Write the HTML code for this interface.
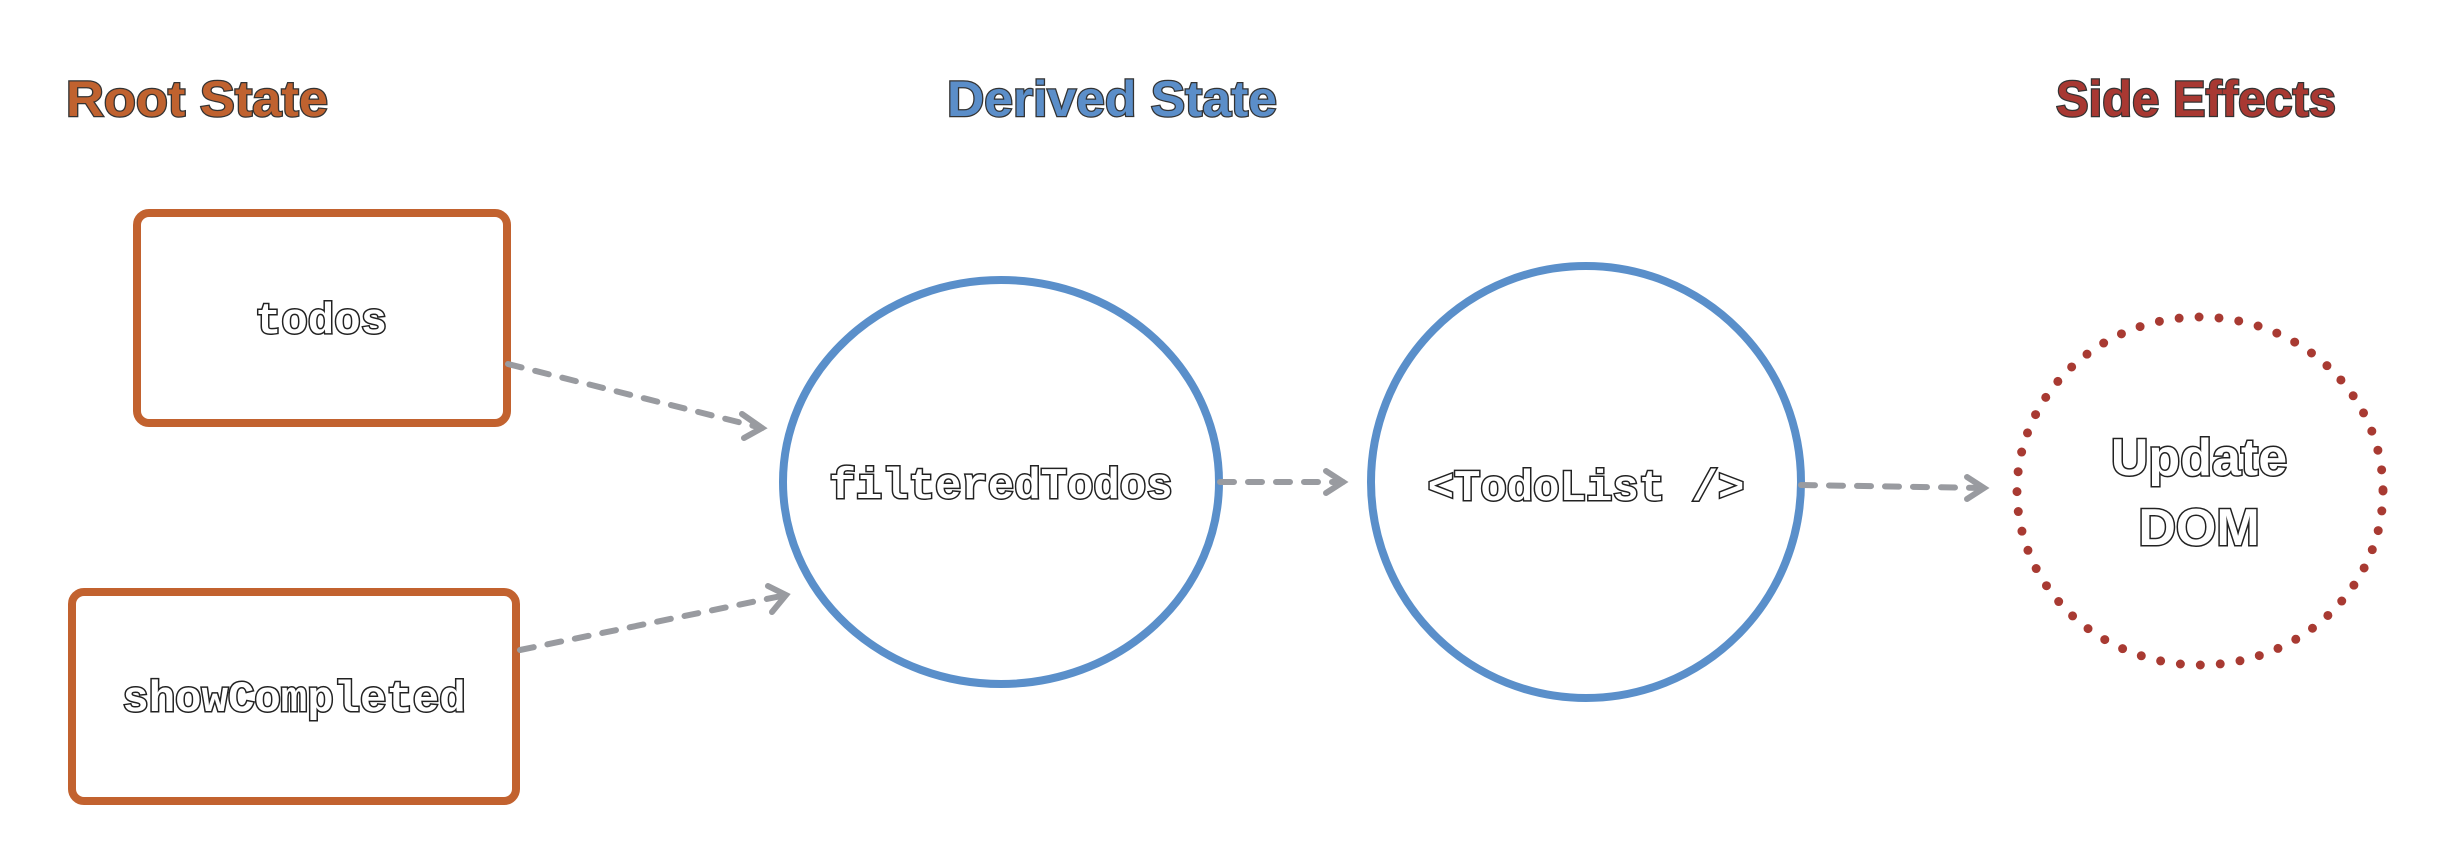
<!DOCTYPE html>
<html><head><meta charset="utf-8"><style>html,body{margin:0;padding:0;background:#fff}svg{display:block}</style></head>
<body>
<svg width="2453" height="864" viewBox="0 0 2453 864" xmlns="http://www.w3.org/2000/svg">
<rect width="2453" height="864" fill="#fff"/>
<g font-family="Liberation Sans, sans-serif" font-weight="bold" font-size="50" stroke="#333" stroke-width="2.5" paint-order="stroke" text-anchor="middle">
<text x="197" y="116" fill="#c0622f" textLength="262" lengthAdjust="spacingAndGlyphs">Root State</text>
<text x="1112" y="116" fill="#5b8ec9" textLength="330" lengthAdjust="spacingAndGlyphs">Derived State</text>
<text x="2196" y="116" fill="#a83832" textLength="280" lengthAdjust="spacingAndGlyphs">Side Effects</text>
</g>
<g fill="none" stroke="#c2622f" stroke-width="8">
<rect x="137" y="213" width="370" height="210" rx="12"/>
<rect x="72" y="592" width="444" height="209" rx="12"/>
</g>
<g fill="none" stroke="#5a8fca" stroke-width="8">
<ellipse cx="1001" cy="482" rx="218" ry="202"/>
<ellipse cx="1586" cy="482" rx="215" ry="216"/>
</g>
<ellipse cx="2200" cy="491" rx="183" ry="174" fill="none" stroke="#a83a32" stroke-width="9" stroke-linecap="round" stroke-dasharray="0 20"/>
<g fill="none" stroke="#999ba0" stroke-width="6" stroke-linecap="round">
<path d="M508 364 L762 428" stroke-dasharray="14 14"/>
<path d="M742 414 L762 428 L744 438"/>
<path d="M520 650 L786 595" stroke-dasharray="14 14"/>
<path d="M768 586 L786 595 L772 612"/>
<path d="M1220 482 L1343 482" stroke-dasharray="14 14"/>
<path d="M1326 471 L1343 482 L1326 493"/>
<path d="M1801 485 L1984 488" stroke-dasharray="14 14"/>
<path d="M1967 477 L1984 488 L1967 499"/>
</g>
<g font-family="Liberation Mono, monospace" font-weight="bold" font-size="44" fill="#fff" stroke="#222" stroke-width="3" paint-order="stroke" text-anchor="middle">
<text x="321" y="333">todos</text>
<text x="294" y="711">showCompleted</text>
<text x="1001" y="498">filteredTodos</text>
<text x="1586" y="500">&lt;TodoList /&gt;</text>
</g>
<g font-family="Liberation Sans, sans-serif" font-weight="bold" font-size="52" fill="#fff" stroke="#222" stroke-width="3" paint-order="stroke" text-anchor="middle">
<text x="2199" y="475">Update</text>
<text x="2199" y="545">DOM</text>
</g>
</svg>
</body></html>
